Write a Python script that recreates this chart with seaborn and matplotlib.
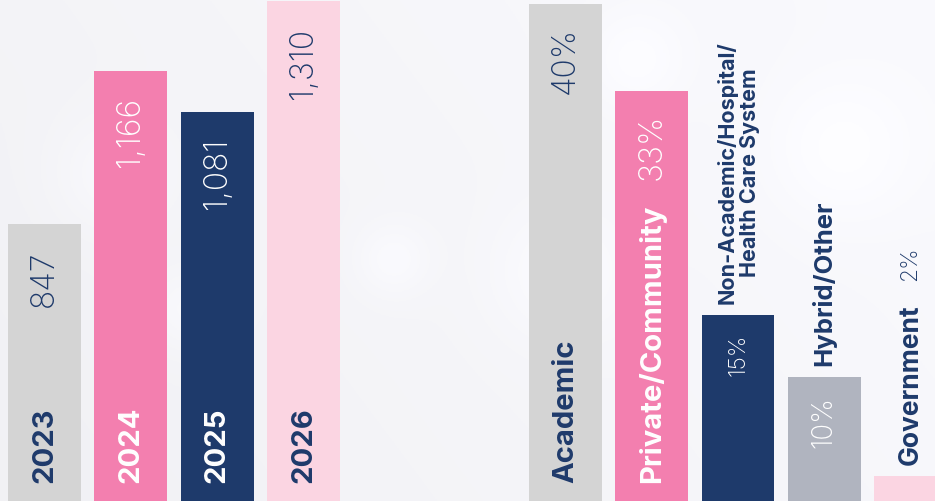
import numpy as np
import pandas as pd
import matplotlib
matplotlib.use('Agg')
import matplotlib.pyplot as plt
import seaborn as sns

# data
years = ['2023', '2024', '2025', '2026']
applicants = [847, 1166, 1081, 1310]
year_colors = ['#D4D4D4', '#F37FAF', '#1E3A6B', '#FBD5E2']
year_text = ['#1E3A6B', 'white', 'white', '#1E3A6B']

settings = ['Academic', 'Private/Community', 'Non-Academic/Hospital/\nHealth Care System',
            'Hybrid/Other', 'Government']
shares = [40, 33, 15, 10, 2]
setting_colors = ['#D4D4D4', '#F37FAF', '#1E3A6B', '#B0B4BF', '#FBD5E2']
setting_text = ['#1E3A6B', 'white', 'white', 'white', '#1E3A6B']
label_sizes = [21, 21, 15.5, 18.5, 19]
value_sizes = [23, 23, 16.5, 20, 16.5]

navy = '#1E3A6B'
sns.set_theme(style='white')
bold_font = ['Inter', 'DejaVu Sans']
light_font = ['Inter', 'DejaVu Sans']

fig = plt.figure(figsize=(9.35, 5.02), dpi=100)
fig.patch.set_facecolor('#F2F2F5')

# soft background
bg = fig.add_axes([0, 0, 1, 1], zorder=-5)
yy, xx = np.mgrid[0:1:200j, 0:1:370j]
shade = 0.95 + 0.025 * xx + 0.01 * (1 - yy)
for cx, cy, r in [(0.12, 0.35, 0.08), (0.2, 0.62, 0.06), (0.68, 0.12, 0.07),
                  (0.6, 0.55, 0.09), (0.42, 0.52, 0.05), (0.9, 0.3, 0.1)]:
    shade += 0.02 * np.exp(-((xx - cx) ** 2 * 3.4 + (yy - cy) ** 2) / (2 * r ** 2))
shade = np.clip(shade, 0, 1)
rgb = np.dstack([shade * 0.995, shade * 0.995, np.clip(shade * 1.01, 0, 1)])
bg.imshow(rgb, aspect='auto', extent=[0, 1, 0, 1])
bg.axis('off')

W, H = 935.0, 502.0


def draw_group(ax, cats, vals, colors):
    df = pd.DataFrame({'cat': cats, 'val': vals})
    sns.barplot(data=df, x='cat', y='val', hue='cat', palette=colors, legend=False,
                width=0.846, saturation=1, linewidth=0, ax=ax)
    ax.set_xlim(-0.5, len(cats) - 0.5)
    ax.patch.set_alpha(0)
    ax.axis('off')


# left: applicants per year
ax1 = fig.add_axes([1.35 / W, 0, 345.3 / W, 1])
draw_group(ax1, years, applicants, year_colors)
ax1.set_ylim(271, 1315)
for i, (yr, v) in enumerate(zip(years, applicants)):
    ax1.text(i, 19 / H, yr, transform=ax1.get_xaxis_transform(), rotation=90,
             ha='center', va='bottom', fontsize=21, fontweight='bold',
             color=year_text[i], family=bold_font)
    ax1.annotate(f'{v:,}', xy=(i, v), xytext=(0, -25), textcoords='offset pixels',
                 rotation=90, ha='center', va='top', fontsize=23, fontweight='light',
                 color=year_text[i], family=light_font)

# right: practice setting
ax2 = fig.add_axes([522.4 / W, 0, 431.2 / W, 1])
draw_group(ax2, settings, shares, setting_colors)
ax2.set_ylim(0, 40.4)
for i, (s, v) in enumerate(zip(settings, shares)):
    if v >= 20:
        ax2.text(i, 19 / H, s, transform=ax2.get_xaxis_transform(), rotation=90,
                 ha='center', va='bottom', fontsize=label_sizes[i], fontweight='bold',
                 color=setting_text[i], family=bold_font)
        ax2.annotate(f'{v}%', xy=(i, v), xytext=(0, -22), textcoords='offset pixels',
                     rotation=90, ha='center', va='top', fontsize=value_sizes[i],
                     fontweight='light', color=setting_text[i], family=light_font)
    else:
        lab = ax2.annotate(s, xy=(i, v), xytext=(0, 12), textcoords='offset pixels',
                           rotation=90, ha='center', va='bottom', fontsize=label_sizes[i],
                           fontweight='bold', color=navy, family=bold_font,
                           linespacing=1.15)
        if v >= 5:
            ax2.annotate(f'{v}%', xy=(i, v), xytext=(0, -18), textcoords='offset pixels',
                         rotation=90, ha='center', va='top', fontsize=value_sizes[i],
                         fontweight='light', color=setting_text[i], family=light_font)
        else:
            ax2.annotate(f'{v}%', xy=(0.5, 1), xycoords=lab, xytext=(0, 24),
                         textcoords='offset pixels', rotation=90, ha='center',
                         va='bottom', fontsize=value_sizes[i], fontweight='light',
                         color=navy, family=light_font)

fig.savefig('out.png', dpi=100)
